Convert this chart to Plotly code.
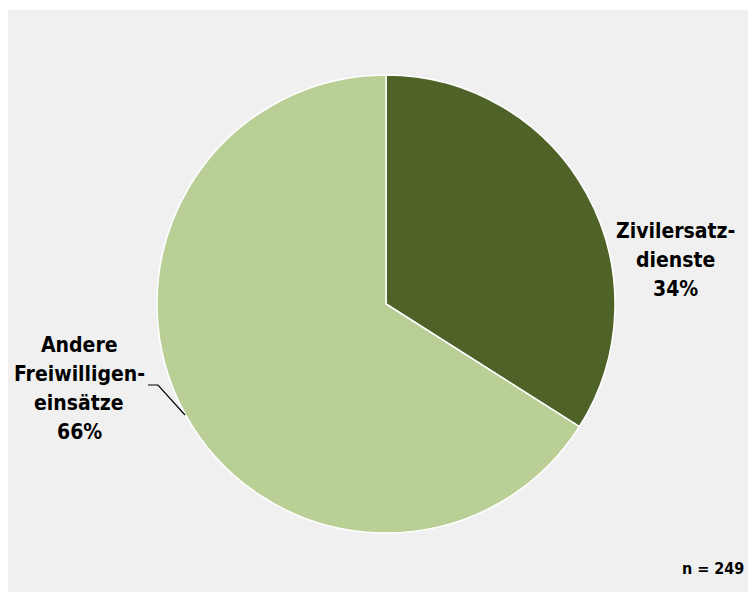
import plotly.graph_objects as go

W, H = 756, 592
labels = ["Zivilersatzdienste", "Andere Freiwilligeneinsätze"]
label_lines = [["Zivilersatz-", "dienste"], ["Andere", "Freiwilligen-", "einsätze"]]
values = [34, 66]
colors = ["#4f6228", "#b9cf96"]
n_text = "n = 249"

FONT = "DejaVu Sans Condensed, sans-serif"
OX, OY = 8, 8  # page body offset


def px(x):
    return (x - OX) / W


def py(y):
    return 1 - (y - OY) / H


fig = go.Figure()
fig.add_trace(go.Pie(
    labels=labels, values=values, sort=False, direction="clockwise", rotation=0,
    marker=dict(colors=colors, line=dict(color="white", width=1.5)),
    textinfo="none", hoverinfo="label+percent", showlegend=False,
    domain=dict(x=[px(157), px(615)], y=[py(533), py(75)]),
))

total = sum(values)
pcts = [round(v * 100 / total) for v in values]

LINE = 29
label_centers = [(675, 260), (79, 388)]
for lines, pct, (cx, cy) in zip(label_lines, pcts, label_centers):
    all_lines = lines + [f"{pct}%"]
    k = len(all_lines)
    for i, t in enumerate(all_lines):
        y = cy + (i - (k - 1) / 2) * LINE
        fig.add_annotation(x=px(cx), y=py(y), xref="paper", yref="paper",
                           text=f"<b>{t}</b>", showarrow=False,
                           xanchor="center", yanchor="middle",
                           font=dict(family=FONT, size=21, color="black"))

fig.add_annotation(x=px(713), y=py(568), xref="paper", yref="paper",
                   text=f"<b>{n_text}</b>", showarrow=False,
                   xanchor="center", yanchor="middle",
                   font=dict(family=FONT, size=16, color="black"))

# background panel
fig.add_shape(type="rect", xref="paper", yref="paper", x0=0, x1=1, y0=0, y1=py(10),
              fillcolor="#f0f0f0", line=dict(width=0), layer="below")
# leader line
fig.add_shape(type="path", xref="paper", yref="paper",
              path=f"M {px(148)},{py(385)} L {px(158)},{py(385)} L {px(185)},{py(415)}",
              line=dict(color="black", width=1.2))

fig.update_layout(width=W, height=H, margin=dict(l=0, r=0, t=0, b=0),
                  paper_bgcolor="white", plot_bgcolor="white")
fig.write_html("out.html")
